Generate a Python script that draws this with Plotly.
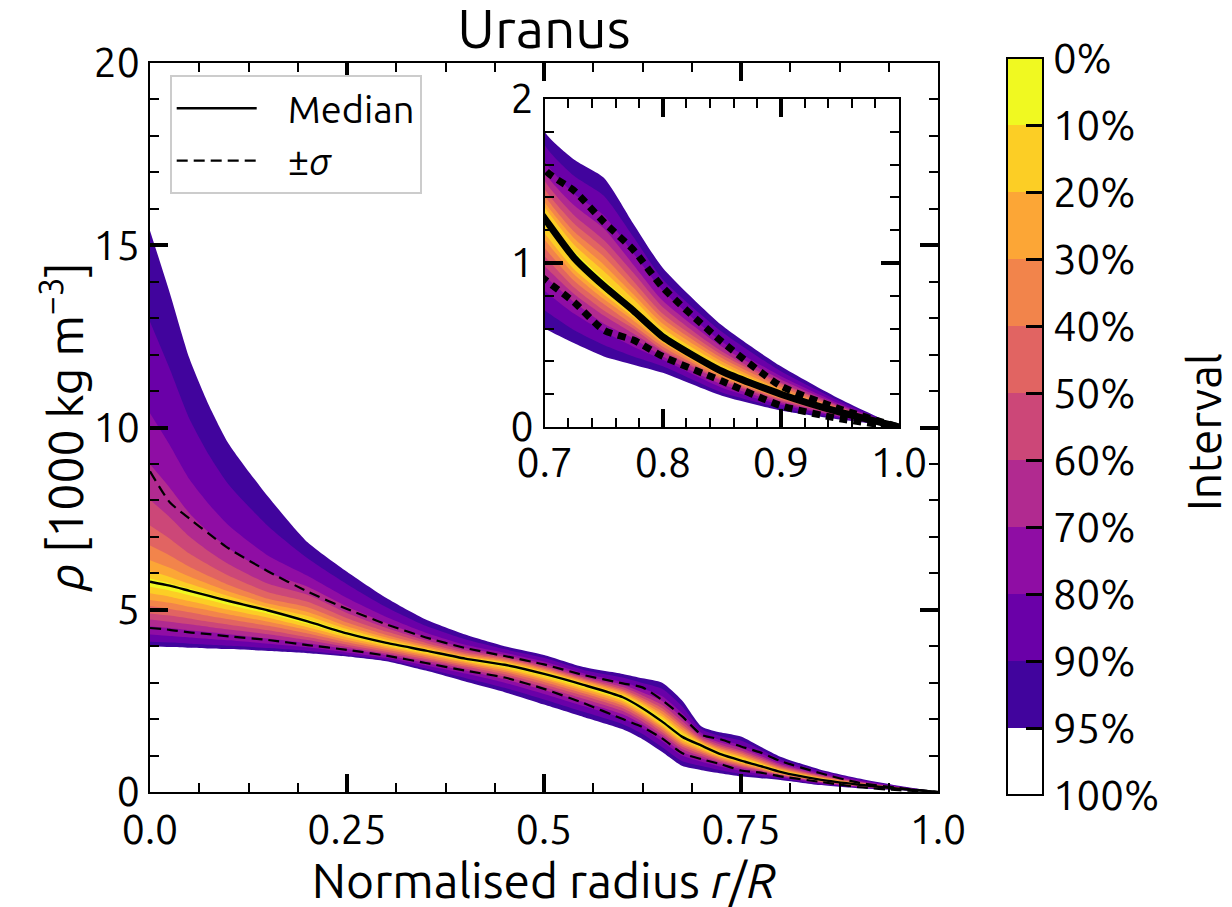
import plotly.graph_objects as go

# ---------------- data ----------------
radius = [0, 0.025, 0.05, 0.075, 0.1, 0.15, 0.2, 0.25, 0.3, 0.35, 0.4, 0.45, 0.5,
          0.55, 0.6, 0.625, 0.65, 0.675, 0.7, 0.725, 0.75, 0.775, 0.8, 0.85, 0.9, 0.95, 1.0]

median = [5.77, 5.66, 5.52, 5.38, 5.24, 4.98, 4.68, 4.35, 4.09, 3.88, 3.66, 3.49, 3.24,
          2.94, 2.60, 2.30, 1.93, 1.52, 1.27, 1.03, 0.86, 0.71, 0.55, 0.34, 0.20, 0.09, 0.0]
sigma_hi = [8.80, 7.95, 7.50, 7.08, 6.68, 6.05, 5.50, 5.02, 4.60, 4.24, 3.95, 3.73, 3.50,
            3.21, 2.98, 2.87, 2.52, 2.08, 1.57, 1.44, 1.25, 1.08, 0.85, 0.52, 0.25, 0.11, 0.0]
sigma_lo = [4.50, 4.45, 4.38, 4.33, 4.27, 4.17, 4.03, 3.90, 3.74, 3.54, 3.33, 3.14, 2.83,
            2.44, 2.00, 1.78, 1.47, 1.07, 0.90, 0.76, 0.59, 0.53, 0.43, 0.28, 0.13, 0.05, 0.0]

# upper / lower edges of each credible interval
hi95 = [15.4, 13.7, 11.9, 10.6, 9.55, 8.10, 6.85, 6.04, 5.32, 4.73, 4.32, 4.00, 3.76,
        3.43, 3.24, 3.12, 3.00, 2.52, 1.80, 1.63, 1.52, 1.24, 0.97, 0.62, 0.37, 0.17, 0.0]
hi90 = [12.90, 11.61, 10.24, 9.24, 8.43, 7.29, 6.41, 5.70, 5.07, 4.56, 4.19, 3.92, 3.68,
        3.35, 3.14, 2.99, 2.83, 2.36, 1.72, 1.53, 1.41, 1.16, 0.90, 0.58, 0.34, 0.157, 0.0]
hi80 = [10.39, 9.52, 8.58, 7.89, 7.31, 6.48, 5.93, 5.32, 4.80, 4.37, 4.04, 3.82, 3.58,
        3.26, 3.02, 2.84, 2.63, 2.17, 1.62, 1.42, 1.29, 1.06, 0.83, 0.52, 0.31, 0.142, 0.0]
hi70 = [8.99, 8.35, 7.65, 7.12, 6.68, 6.02, 5.63, 5.09, 4.63, 4.25, 3.95, 3.76, 3.52,
        3.20, 2.94, 2.73, 2.50, 2.05, 1.55, 1.35, 1.21, 0.99, 0.77, 0.49, 0.29, 0.132, 0.0]
hi60 = [8.02, 7.54, 7.01, 6.60, 6.25, 5.71, 5.41, 4.91, 4.50, 4.16, 3.88, 3.71, 3.46,
        3.15, 2.88, 2.65, 2.39, 1.95, 1.50, 1.29, 1.14, 0.94, 0.73, 0.46, 0.27, 0.124, 0.0]
hi50 = [7.31, 6.95, 6.54, 6.22, 5.93, 5.48, 5.22, 4.77, 4.40, 4.09, 3.83, 3.67, 3.42,
        3.11, 2.82, 2.58, 2.30, 1.86, 1.45, 1.24, 1.09, 0.89, 0.69, 0.44, 0.26, 0.118, 0.0]
hi40 = [6.76, 6.49, 6.18, 5.92, 5.68, 5.30, 5.07, 4.65, 4.31, 4.03, 3.78, 3.63, 3.38,
        3.07, 2.77, 2.52, 2.22, 1.79, 1.41, 1.19, 1.04, 0.85, 0.66, 0.42, 0.245, 0.111, 0.0]
hi30 = [6.36, 6.15, 5.91, 5.70, 5.50, 5.17, 4.94, 4.55, 4.24, 3.98, 3.74, 3.59, 3.34,
        3.04, 2.73, 2.46, 2.14, 1.72, 1.37, 1.15, 0.99, 0.81, 0.63, 0.40, 0.23, 0.106, 0.0]
hi20 = [6.06, 5.90, 5.71, 5.54, 5.37, 5.07, 4.83, 4.47, 4.18, 3.94, 3.71, 3.56, 3.31,
        3.00, 2.68, 2.41, 2.07, 1.65, 1.34, 1.11, 0.95, 0.78, 0.60, 0.38, 0.22, 0.100, 0.0]
hi10 = [5.86, 5.73, 5.58, 5.43, 5.28, 5.01, 4.74, 4.40, 4.12, 3.90, 3.68, 3.52, 3.27,
        2.97, 2.64, 2.35, 2.00, 1.58, 1.30, 1.07, 0.90, 0.74, 0.58, 0.36, 0.21, 0.095, 0.0]
lo10 = [5.63, 5.53, 5.40, 5.27, 5.13, 4.89, 4.61, 4.30, 4.05, 3.84, 3.62, 3.44, 3.19,
        2.88, 2.54, 2.25, 1.88, 1.47, 1.23, 1.00, 0.83, 0.69, 0.54, 0.33, 0.194, 0.087, 0.0]
lo20 = [5.45, 5.36, 5.24, 5.12, 5.00, 4.78, 4.52, 4.24, 4.00, 3.79, 3.58, 3.39, 3.13,
        2.83, 2.49, 2.19, 1.82, 1.42, 1.18, 0.96, 0.81, 0.67, 0.52, 0.32, 0.187, 0.084, 0.0]
lo30 = [5.27, 5.19, 5.08, 4.98, 4.87, 4.67, 4.44, 4.17, 3.95, 3.75, 3.54, 3.34, 3.08,
        2.77, 2.43, 2.13, 1.77, 1.36, 1.14, 0.93, 0.78, 0.65, 0.51, 0.31, 0.180, 0.081, 0.0]
lo40 = [5.10, 5.02, 4.93, 4.83, 4.74, 4.56, 4.35, 4.11, 3.90, 3.70, 3.49, 3.29, 3.02,
        2.71, 2.37, 2.07, 1.71, 1.31, 1.09, 0.89, 0.75, 0.62, 0.49, 0.30, 0.173, 0.078, 0.0]
lo50 = [4.90, 4.84, 4.76, 4.67, 4.59, 4.44, 4.25, 4.04, 3.85, 3.65, 3.44, 3.23, 2.95,
        2.64, 2.30, 2.01, 1.64, 1.25, 1.04, 0.85, 0.71, 0.60, 0.47, 0.29, 0.166, 0.075, 0.0]
lo60 = [4.73, 4.67, 4.60, 4.53, 4.46, 4.33, 4.17, 3.98, 3.80, 3.60, 3.39, 3.17, 2.88,
        2.56, 2.22, 1.93, 1.57, 1.18, 0.98, 0.81, 0.68, 0.57, 0.46, 0.28, 0.157, 0.071, 0.0]
lo70 = [4.55, 4.50, 4.44, 4.39, 4.33, 4.21, 4.08, 3.92, 3.75, 3.54, 3.33, 3.09, 2.80,
        2.47, 2.13, 1.85, 1.49, 1.10, 0.92, 0.76, 0.63, 0.54, 0.43, 0.26, 0.147, 0.066, 0.0]
lo80 = [4.32, 4.28, 4.24, 4.20, 4.16, 4.07, 3.97, 3.83, 3.68, 3.47, 3.25, 3.00, 2.69,
        2.36, 2.02, 1.74, 1.39, 1.00, 0.83, 0.69, 0.58, 0.49, 0.41, 0.24, 0.135, 0.061, 0.0]
lo90 = [4.12, 4.10, 4.07, 4.04, 4.01, 3.95, 3.87, 3.76, 3.63, 3.39, 3.13, 2.86, 2.54,
        2.20, 1.86, 1.59, 1.23, 0.85, 0.71, 0.59, 0.50, 0.43, 0.37, 0.21, 0.116, 0.052, 0.0]
lo95 = [4.00, 3.98, 3.96, 3.94, 3.92, 3.87, 3.81, 3.72, 3.59, 3.33, 3.03, 2.74, 2.40,
        2.06, 1.72, 1.45, 1.10, 0.72, 0.60, 0.51, 0.43, 0.38, 0.33, 0.19, 0.10, 0.045, 0.0]

interval_levels = ["95%", "90%", "80%", "70%", "60%", "50%", "40%", "30%", "20%", "10%"]
interval_hi = [hi95, hi90, hi80, hi70, hi60, hi50, hi40, hi30, hi20, hi10]
interval_lo = [lo95, lo90, lo80, lo70, lo60, lo50, lo40, lo30, lo20, lo10]

colorbar_labels = ["100%", "95%", "90%", "80%", "70%", "60%", "50%", "40%", "30%", "20%", "10%", "0%"]

main_xticks = [0, 0.25, 0.5, 0.75, 1.0]
main_xticktext = ["0.0", "0.25", "0.5", "0.75", "1.0"]
main_yticks = [0, 5, 10, 15, 20]
inset_xticks = [0.7, 0.8, 0.9, 1.0]
inset_xticktext = ["0.7", "0.8", "0.9", "1.0"]
inset_yticks = [0, 1, 2]

# ---------------- styles ----------------
band_colors = ["#41049d", "#6a00a8", "#8f0da4", "#b12a90", "#cc4778",
               "#e16462", "#f2844b", "#fca636", "#fcce25", "#f0f921"]
FONT = "Ubuntu, Noto Sans, sans-serif"
TICKFONT = dict(size=41, family=FONT, color="black")
SMOOTH = 0.6

fig = go.Figure()

for axes_x, axes_y in (("x", "y"), ("x2", "y2")):
    for lvl, hi, lo, col in zip(interval_levels, interval_hi, interval_lo, band_colors):
        fig.add_trace(go.Scatter(
            x=radius + radius[::-1], y=hi + lo[::-1], fill="toself", fillcolor=col,
            line=dict(width=0, color=col, shape="spline", smoothing=SMOOTH),
            mode="lines", hoverinfo="skip",
            showlegend=False, xaxis=axes_x, yaxis=axes_y, name=lvl))

NB = "\u00a0\u00a0\u00a0"
# main lines
fig.add_trace(go.Scatter(x=radius, y=median, mode="lines", name=NB + "Median",
                         line=dict(color="black", width=2.4, shape="spline", smoothing=SMOOTH)))
fig.add_trace(go.Scatter(x=radius, y=sigma_hi, mode="lines", name=NB + "±<i>σ</i>",
                         line=dict(color="black", width=2.2, dash="11px,6px",
                                   shape="spline", smoothing=SMOOTH)))
fig.add_trace(go.Scatter(x=radius, y=sigma_lo, mode="lines", showlegend=False,
                         line=dict(color="black", width=2.2, dash="11px,6px",
                                   shape="spline", smoothing=SMOOTH)))
# inset lines
fig.add_trace(go.Scatter(x=radius, y=median, mode="lines", showlegend=False,
                         xaxis="x2", yaxis="y2",
                         line=dict(color="black", width=7, shape="spline", smoothing=SMOOTH)))
for s in (sigma_hi, sigma_lo):
    fig.add_trace(go.Scatter(x=radius, y=s, mode="lines", showlegend=False,
                             xaxis="x2", yaxis="y2",
                             line=dict(color="black", width=7, dash="8px,6px",
                                       shape="spline", smoothing=SMOOTH)))

# empty traces so the mirrored tick axes get drawn
fig.add_trace(go.Scatter(x=[None], y=[None], xaxis="x3", yaxis="y3",
                         showlegend=False, hoverinfo="skip"))
fig.add_trace(go.Scatter(x=[None], y=[None], xaxis="x4", yaxis="y4",
                         showlegend=False, hoverinfo="skip"))

# colorbar via an off-screen heatmap
n = len(colorbar_labels) - 1
cb_colors = ["#ffffff"] + band_colors
cscale = []
for i, c in enumerate(cb_colors):
    cscale.append([i / n, c])
    cscale.append([(i + 1) / n, c])
fig.add_trace(go.Heatmap(
    x=[-5, -4], y=[-5, -4], z=[[0, n], [n, 0]], zmin=0, zmax=n,
    colorscale=cscale, showscale=True, hoverinfo="skip",
    colorbar=dict(
        xref="paper", x=(1007 - 150) / 788, xanchor="left", xpad=0,
        yref="paper", y=(792 - 426.5) / 729, yanchor="middle", ypad=0,
        len=737, lenmode="pixels", thickness=36, thicknessmode="pixels",
        outlinecolor="black", outlinewidth=2,
        tickvals=list(range(n + 1)), ticktext=colorbar_labels,
        ticks="inside", ticklen=18, tickwidth=3, tickcolor="black",
        tickfont=dict(size=42, family=FONT, color="black"),
    )))

axis_common = dict(showline=True, linecolor="black", linewidth=2, mirror=True,
                   ticks="inside", tickcolor="black", showgrid=False, zeroline=False,
                   tickfont=TICKFONT, ticklen=18, tickwidth=3.5)
mirror_common = dict(showline=False, ticks="inside", tickcolor="black", showgrid=False,
                     zeroline=False, showticklabels=False, ticklen=18, tickwidth=3.5)


def minor(dt, t0):
    return dict(ticks="inside", dtick=dt, tick0=t0, ticklen=9, tickwidth=1.8,
                tickcolor="black", showgrid=False)


fig.update_layout(
    width=1232, height=907,
    margin=dict(l=150, r=294, t=63, b=115, autoexpand=False),
    paper_bgcolor="white", plot_bgcolor="white",
    font=dict(family=FONT, color="black"),
    title=dict(text="Uranus", x=(150 + 938) / 2 / 1232, xanchor="center",
               y=1 - 29 / 907, yanchor="middle",
               font=dict(size=55, family=FONT, color="black")),
    xaxis=dict(range=[0, 1], tickvals=main_xticks, ticktext=main_xticktext,
               minor=minor(0.0625, 0), ticklabelstandoff=1,
               title=dict(text="Normalised radius <i>r</i>/<i>R</i>", standoff=16,
                          font=dict(size=48, family=FONT, color="black")),
               **axis_common),
    yaxis=dict(range=[0, 20], tickvals=main_yticks, minor=minor(1, 0),
               ticklabelstandoff=0, **axis_common),
    xaxis3=dict(overlaying="x", side="top", anchor="y3", range=[0, 1],
                tickvals=main_xticks, minor=minor(0.0625, 0), **mirror_common),
    yaxis3=dict(overlaying="y", side="right", anchor="x3", range=[0, 20],
                tickvals=main_yticks, minor=minor(1, 0), **mirror_common),
    xaxis2=dict(domain=[0.501, 0.9505], anchor="y2", range=[0.7, 1.0],
                tickvals=inset_xticks, ticktext=inset_xticktext,
                minor=minor(0.02, 0.7), ticklabelstandoff=-1, **axis_common),
    yaxis2=dict(domain=[0.5007, 0.9506], anchor="x2", range=[0, 2],
                tickvals=inset_yticks, minor=minor(0.2, 0), ticklabelstandoff=1,
                **axis_common),
    xaxis4=dict(overlaying="x2", side="top", anchor="y4", range=[0.7, 1.0],
                tickvals=inset_xticks, minor=minor(0.02, 0.7), **mirror_common),
    yaxis4=dict(overlaying="y2", side="right", anchor="x4", range=[0, 2],
                tickvals=inset_yticks, minor=minor(0.2, 0), **mirror_common),
    legend=dict(x=0.025, y=0.9835, xanchor="left", yanchor="top",
                bgcolor="white", bordercolor="#cccccc", borderwidth=2,
                font=dict(size=38, family=FONT, color="black"),
                itemwidth=80, tracegroupgap=4),
    annotations=[
        dict(text="<i>ρ</i> [1000 kg m<sup>−3</sup>]", textangle=-90,
             xref="paper", yref="paper", x=(62 - 150) / 788, y=(792 - 427) / 729,
             xanchor="center", yanchor="middle", showarrow=False,
             font=dict(size=48, family=FONT, color="black")),
        dict(text="Interval", textangle=-90,
             xref="paper", yref="paper", x=(1204 - 150) / 788, y=(792 - 432) / 729,
             xanchor="center", yanchor="middle", showarrow=False,
             font=dict(size=46, family=FONT, color="black")),
    ],
)

fig.write_html("out.html", config={"displayModeBar": False},
               post_script="document.body.style.margin='0';")
